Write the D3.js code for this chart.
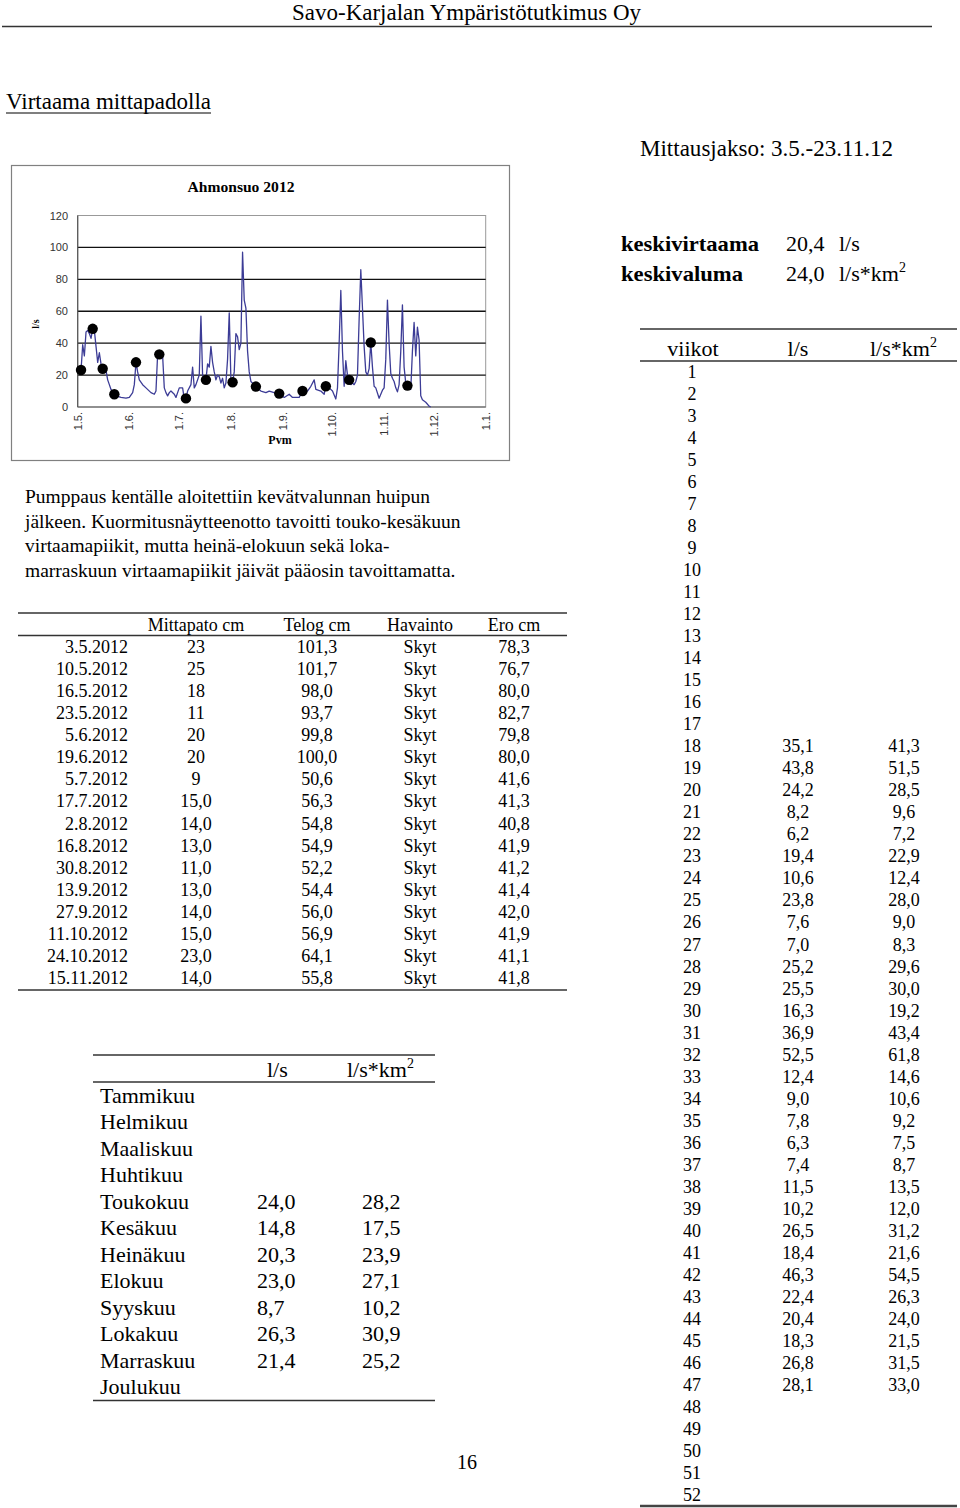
<!DOCTYPE html>
<html>
<head>
<meta charset="utf-8">
<script src="https://cdn.jsdelivr.net/npm/d3@7"></script>
<style>
body { margin: 0; background: #fff; }
svg text { font-family: "Liberation Serif", "Times New Roman", serif; fill: #000; }
svg text.tick { font-family: "Liberation Sans", "DejaVu Sans", sans-serif; fill: #333; }
</style>
</head>
<body>
<svg id="page"></svg>
<script>
// ---- chart data (Ahmonsuo 2012, l/s) ----
var flowDates = ["3.5.","4.5.","5.5.","6.5.","7.5.","8.5.","9.5.","10.5.","11.5.","12.5.","13.5.","14.5.","15.5.","16.5.","18.5.","19.5.","20.5.","21.5.","23.5.","24.5.","27.5.","30.5.",
  "1.6.","3.6.","4.6.","5.6.","6.6.","7.6.","9.6.","11.6.","14.6.","16.6.","17.6.","18.6.","19.6.","20.6.","21.6.","22.6.","23.6.","24.6.","25.6.","26.6.","28.6.","29.6.","30.6.",
  "1.7.","3.7.","4.7.","5.7.","6.7.","8.7.","9.7.","10.7.","11.7.","13.7.","14.7.","15.7.","16.7.","17.7.","18.7.","19.7.","20.7.","21.7.","22.7.","23.7.","24.7.","25.7.","26.7.","27.7.","28.7.","29.7.","30.7.","31.7.",
  "1.8.","2.8.","3.8.","4.8.","5.8.","6.8.","7.8.","8.8.","9.8.","10.8.","11.8.","12.8.","13.8.","16.8.","19.8.","22.8.","24.8.","27.8.","30.8.",
  "2.9.","5.9.","7.9.","11.9.","13.9.","16.9.","18.9.","20.9.","21.9.","24.9.","26.9.","27.9.","29.9.",
  "1.10.","3.10.","4.10.","5.10.","6.10.","7.10.","8.10.","9.10.","10.10.","11.10.","12.10.","13.10.","14.10.","15.10.","16.10.","17.10.","18.10.","19.10.","20.10.","21.10.","22.10.","23.10.","24.10.","25.10.","26.10.","27.10.","29.10.","30.10.","31.10.",
  "1.11.","2.11.","3.11.","4.11.","5.11.","6.11.","7.11.","8.11.","9.11.","10.11.","11.11.","12.11.","13.11.","14.11.","15.11.","16.11.","17.11.","18.11.","19.11.","20.11.","21.11.","22.11.","23.11.","24.11.","26.11.","28.11.","29.11."];
var flowValues = [23,39,32,47,48,46,43,49,48,38,28,34,27,24,23,17,14,11,8,7,6,5.5,
  6,9,14,28,22,17,14,12,9,8,10,33,33,34,32,12,9,7,9,10,8,6,9,
  12,12,5,5.4,10,14,25,12,14,20,57,20,19,17,27,25,38,28,22,17,20,19,15,18,12,15,30,59,
  17,15.5,22,46,44,36,40,97,67,62,35,22,16,12.8,10,9,10,9,8.4,
  6,8,6,6,10,10,13,17,11,10,8,13,12,
  10,5,12,40,73,35,13,29,20,17,14,15,14,16,20,55,86,62,38,22,20,24,40.4,25,13,12,5.5,8,10.5,
  12,30,67,40,21,18,16,12,9.5,14,35,64,25,15,13.4,13,11,35,53,32,50,42,7,4.5,3,0.5,0];
var sampleDates = ["3.5.","10.5.","16.5.","23.5.","5.6.","19.6.","5.7.","17.7.","2.8.","16.8.","30.8.","13.9.","27.9.","11.10.","24.10.","15.11."];
var sampleFlow = [23.2,49,24,8,28,33,5.4,17,15.5,12.8,8.4,10,13,17,40.4,13.4];
var yTicks = [0,20,40,60,80,100,120];
var xTickDates = ["1.5.2012","1.6.2012","1.7.2012","1.8.2012","1.9.2012","1.10.2012","1.11.2012","1.12.2012","1.1.2013"];

// ---- measurement table ----
var measHeaders = ["Mittapato cm","Telog cm","Havainto","Ero cm"];
var measDates = ["3.5.2012","10.5.2012","16.5.2012","23.5.2012","5.6.2012","19.6.2012","5.7.2012","17.7.2012","2.8.2012","16.8.2012","30.8.2012","13.9.2012","27.9.2012","11.10.2012","24.10.2012","15.11.2012"];
var measMittapato = ["23","25","18","11","20","20","9","15,0","14,0","13,0","11,0","13,0","14,0","15,0","23,0","14,0"];
var measTelog = ["101,3","101,7","98,0","93,7","99,8","100,0","50,6","56,3","54,8","54,9","52,2","54,4","56,0","56,9","64,1","55,8"];
var measHavainto = ["Skyt","Skyt","Skyt","Skyt","Skyt","Skyt","Skyt","Skyt","Skyt","Skyt","Skyt","Skyt","Skyt","Skyt","Skyt","Skyt"];
var measEro = ["78,3","76,7","80,0","82,7","79,8","80,0","41,6","41,3","40,8","41,9","41,2","41,4","42,0","41,9","41,1","41,8"];

// ---- monthly table ----
var months = ["Tammikuu","Helmikuu","Maaliskuu","Huhtikuu","Toukokuu","Kesäkuu","Heinäkuu","Elokuu","Syyskuu","Lokakuu","Marraskuu","Joulukuu"];
var monthFlow = ["","","","","24,0","14,8","20,3","23,0","8,7","26,3","21,4",""];
var monthRunoff = ["","","","","28,2","17,5","23,9","27,1","10,2","30,9","25,2",""];

// ---- weekly table ----
var weeks = [1,2,3,4,5,6,7,8,9,10,11,12,13,14,15,16,17,18,19,20,21,22,23,24,25,26,27,28,29,30,31,32,33,34,35,36,37,38,39,40,41,42,43,44,45,46,47,48,49,50,51,52];
var weekFlow = ["","","","","","","","","","","","","","","","","","35,1","43,8","24,2","8,2","6,2","19,4","10,6","23,8","7,6","7,0","25,2","25,5","16,3","36,9","52,5","12,4","9,0","7,8","6,3","7,4","11,5","10,2","26,5","18,4","46,3","22,4","20,4","18,3","26,8","28,1","","","","",""];
var weekRunoff = ["","","","","","","","","","","","","","","","","","41,3","51,5","28,5","9,6","7,2","22,9","12,4","28,0","9,0","8,3","29,6","30,0","19,2","43,4","61,8","14,6","10,6","9,2","7,5","8,7","13,5","12,0","31,2","21,6","54,5","26,3","24,0","21,5","31,5","33,0","","","","",""];

var width = 960, height = 1508;
var svg = d3.select("#page").attr("width", width).attr("height", height);
svg.append("rect").attr("width", width).attr("height", height).attr("fill", "#fff");

// header
svg.append("text").attr("x", 292).attr("y", 20).attr("font-size", 23)
  .attr("textLength", 349).attr("lengthAdjust", "spacingAndGlyphs")
  .text("Savo-Karjalan Ympäristötutkimus Oy");
svg.append("line").attr("x1", 2).attr("x2", 932).attr("y1", 26.5).attr("y2", 26.5)
  .attr("stroke", "#333").attr("stroke-width", 1.5);

svg.append("text").attr("x", 6).attr("y", 109).attr("font-size", 23)
  .attr("textLength", 205).attr("lengthAdjust", "spacingAndGlyphs")
  .text("Virtaama mittapadolla");
svg.append("line").attr("x1", 6).attr("x2", 211).attr("y1", 113).attr("y2", 113)
  .attr("stroke", "#000").attr("stroke-width", 1.2);

svg.append("text").attr("x", 640).attr("y", 156).attr("font-size", 23)
  .attr("textLength", 253).attr("lengthAdjust", "spacingAndGlyphs")
  .text("Mittausjakso: 3.5.-23.11.12");

// ---- chart ----
var parseShort = function(s){ return d3.timeParse("%d.%m.%Y")(s + "2012"); };
var parseFull = d3.timeParse("%d.%m.%Y");

svg.append("rect").attr("x", 11.5).attr("y", 165.5).attr("width", 498).attr("height", 295)
  .attr("fill", "#fff").attr("stroke", "#808080").attr("stroke-width", 1.2);

var chart = svg.append("g");
var x = d3.scaleTime().domain([parseFull("1.5.2012"), parseFull("1.1.2013")]).range([77.7, 485.7]);
var y = d3.scaleLinear().domain([0, 120]).range([407, 215.5]);

chart.append("text").attr("x", 241).attr("y", 192).attr("text-anchor", "middle")
  .attr("font-size", 14).attr("font-weight", "bold")
  .attr("textLength", 107).attr("lengthAdjust", "spacingAndGlyphs")
  .text("Ahmonsuo  2012");

// plot frame
chart.append("rect").attr("x", x.range()[0]).attr("y", y(120)).attr("width", x.range()[1] - x.range()[0])
  .attr("height", y(0) - y(120)).attr("fill", "none").attr("stroke", "#999").attr("stroke-width", 1);

chart.selectAll(".grid").data(yTicks.filter(function(d){ return d > 0 && d < 120; }))
  .enter().append("line").attr("class", "grid")
  .attr("x1", x.range()[0]).attr("x2", x.range()[1])
  .attr("y1", function(d){ return y(d); })
  .attr("y2", function(d){ return y(d); })
  .attr("stroke", "#111").attr("stroke-width", 1.3);

chart.append("line").attr("x1", x.range()[0]).attr("x2", x.range()[0]).attr("y1", y(120)).attr("y2", y(0))
  .attr("stroke", "#555").attr("stroke-width", 1.2);
chart.append("line").attr("x1", x.range()[0]).attr("x2", x.range()[1]).attr("y1", y(0)).attr("y2", y(0))
  .attr("stroke", "#555").attr("stroke-width", 1.2);

chart.selectAll(".ylab").data(yTicks).enter().append("text").attr("class", "ylab tick")
  .attr("x", 68).attr("y", function(d){ return y(d) + 4; })
  .attr("text-anchor", "end").attr("font-size", 11)
  .text(function(d){ return d; });

chart.append("text").attr("transform", "translate(39,324) rotate(-90)")
  .attr("text-anchor", "middle").attr("font-size", 10).attr("font-weight", "bold")
  .text("l/s");

var fmtTick = d3.timeFormat("%-d.%-m.");
chart.selectAll(".xlab").data(xTickDates.map(parseFull)).enter().append("text").attr("class", "xlab tick")
  .attr("transform", function(d){ return "translate(" + (x(d) + 4) + ",412) rotate(-90)"; })
  .attr("text-anchor", "end").attr("font-size", 11)
  .text(function(d){ return fmtTick(d); });

chart.append("text").attr("x", 280).attr("y", 444).attr("text-anchor", "middle")
  .attr("font-size", 12).attr("font-weight", "bold").text("Pvm");

var flow = flowDates.map(function(d, i){ return { date: parseShort(d), value: flowValues[i] }; });
var line = d3.line().x(function(d){ return x(d.date); }).y(function(d){ return y(d.value); });
chart.append("path").datum(flow).attr("d", line)
  .attr("fill", "none").attr("stroke", "#3c3c96").attr("stroke-width", 1.3).attr("stroke-linejoin", "round");

chart.selectAll(".dot").data(sampleDates.map(function(d, i){ return { date: parseShort(d), value: sampleFlow[i] }; }))
  .enter().append("circle").attr("class", "dot")
  .attr("cx", function(d){ return x(d.date); }).attr("cy", function(d){ return y(d.value); })
  .attr("r", 5.2).attr("fill", "#000");

// ---- summary values ----
var summary = svg.append("g").attr("font-size", 22);
summary.append("text").attr("x", 621).attr("y", 251).attr("font-weight", "bold")
  .attr("textLength", 138).attr("lengthAdjust", "spacingAndGlyphs").text("keskivirtaama");
summary.append("text").attr("x", 621).attr("y", 281).attr("font-weight", "bold")
  .attr("textLength", 122).attr("lengthAdjust", "spacingAndGlyphs").text("keskivaluma");
summary.append("text").attr("x", 786).attr("y", 251).text("20,4");
summary.append("text").attr("x", 839).attr("y", 251).text("l/s");
summary.append("text").attr("x", 786).attr("y", 281).text("24,0");
var km = summary.append("text").attr("x", 839).attr("y", 281).text("l/s*km");
km.append("tspan").attr("dy", -9).attr("font-size", 14).text("2");

// ---- paragraph ----
var para = ["Pumppaus kentälle aloitettiin kevätvalunnan huipun",
  "jälkeen. Kuormitusnäytteenotto tavoitti touko-kesäkuun",
  "virtaamapiikit, mutta heinä-elokuun sekä loka-",
  "marraskuun virtaamapiikit jäivät pääosin tavoittamatta."];
svg.selectAll(".para").data(para).enter().append("text").attr("class", "para")
  .attr("x", 25).attr("y", function(d, i){ return 503 + i * 24.6; })
  .attr("font-size", 19.5).text(function(d){ return d; });

// ---- measurement table ----
var mt = svg.append("g").attr("font-size", 18);
var mCol = d3.scaleOrdinal().domain(measHeaders).range([196, 317, 420, 514]);
var mRow = d3.scaleLinear().domain([0, measDates.length - 1]).range([653, 984]);
mt.append("line").attr("x1", 18).attr("x2", 567).attr("y1", 613).attr("y2", 613).attr("stroke", "#333").attr("stroke-width", 1.5);
mt.append("line").attr("x1", 18).attr("x2", 567).attr("y1", 635.5).attr("y2", 635.5).attr("stroke", "#333").attr("stroke-width", 1.5);
mt.append("line").attr("x1", 18).attr("x2", 567).attr("y1", 990).attr("y2", 990).attr("stroke", "#333").attr("stroke-width", 1.5);
mt.selectAll(".mh").data(measHeaders).enter().append("text").attr("class", "mh")
  .attr("x", function(d){ return mCol(d); }).attr("y", 631).attr("text-anchor", "middle")
  .text(function(d){ return d; });
mt.selectAll(".md").data(measDates).enter().append("text").attr("class", "md")
  .attr("x", 128).attr("y", function(d, i){ return mRow(i); }).attr("text-anchor", "end")
  .text(function(d){ return d; });
[measMittapato, measTelog, measHavainto, measEro].forEach(function(col, c){
  mt.selectAll(".mc" + c).data(col).enter().append("text").attr("class", "mc" + c)
    .attr("x", mCol(measHeaders[c])).attr("y", function(d, i){ return mRow(i); })
    .attr("text-anchor", "middle").text(function(d){ return d; });
});

// ---- monthly table ----
var mo = svg.append("g").attr("font-size", 22);
var moRow = d3.scaleLinear().domain([0, months.length - 1]).range([1103, 1394]);
mo.append("line").attr("x1", 93).attr("x2", 435).attr("y1", 1055).attr("y2", 1055).attr("stroke", "#333").attr("stroke-width", 1.5);
mo.append("line").attr("x1", 93).attr("x2", 435).attr("y1", 1082).attr("y2", 1082).attr("stroke", "#333").attr("stroke-width", 1.5);
mo.append("line").attr("x1", 93).attr("x2", 435).attr("y1", 1400.5).attr("y2", 1400.5).attr("stroke", "#333").attr("stroke-width", 1.5);
mo.append("text").attr("x", 267).attr("y", 1077).text("l/s");
var moH = mo.append("text").attr("x", 347).attr("y", 1077).text("l/s*km");
moH.append("tspan").attr("dy", -9).attr("font-size", 14).text("2");
mo.selectAll(".mn").data(months).enter().append("text").attr("class", "mn")
  .attr("x", 100).attr("y", function(d, i){ return moRow(i); }).text(function(d){ return d; });
mo.selectAll(".mf").data(monthFlow).enter().append("text").attr("class", "mf")
  .attr("x", 257).attr("y", function(d, i){ return moRow(i); }).text(function(d){ return d; });
mo.selectAll(".mr").data(monthRunoff).enter().append("text").attr("class", "mr")
  .attr("x", 362).attr("y", function(d, i){ return moRow(i); }).text(function(d){ return d; });

// page number
svg.append("text").attr("x", 467).attr("y", 1469).attr("text-anchor", "middle").attr("font-size", 20).text("16");

// ---- weekly table ----
var wk = svg.append("g").attr("font-size", 18);
var wRow = d3.scaleLinear().domain([0, weeks.length - 1]).range([378, 1501]);
wk.append("line").attr("x1", 640).attr("x2", 957).attr("y1", 329).attr("y2", 329).attr("stroke", "#333").attr("stroke-width", 1.5);
wk.append("line").attr("x1", 640).attr("x2", 957).attr("y1", 361).attr("y2", 361).attr("stroke", "#333").attr("stroke-width", 1.5);
wk.append("line").attr("x1", 640).attr("x2", 957).attr("y1", 1506).attr("y2", 1506).attr("stroke", "#444").attr("stroke-width", 2.5);
wk.append("text").attr("x", 693).attr("y", 356).attr("text-anchor", "middle").attr("font-size", 22).text("viikot");
wk.append("text").attr("x", 798).attr("y", 356).attr("text-anchor", "middle").attr("font-size", 22).text("l/s");
var wH = wk.append("text").attr("x", 870).attr("y", 356).attr("font-size", 22).text("l/s*km");
wH.append("tspan").attr("dy", -9).attr("font-size", 14).text("2");
wk.selectAll(".wn").data(weeks).enter().append("text").attr("class", "wn")
  .attr("x", 692).attr("y", function(d, i){ return wRow(i); }).attr("text-anchor", "middle")
  .text(function(d){ return d; });
wk.selectAll(".wf").data(weekFlow).enter().append("text").attr("class", "wf")
  .attr("x", 798).attr("y", function(d, i){ return wRow(i); }).attr("text-anchor", "middle")
  .text(function(d){ return d; });
wk.selectAll(".wr").data(weekRunoff).enter().append("text").attr("class", "wr")
  .attr("x", 904).attr("y", function(d, i){ return wRow(i); }).attr("text-anchor", "middle")
  .text(function(d){ return d; });
</script>
</body>
</html>
